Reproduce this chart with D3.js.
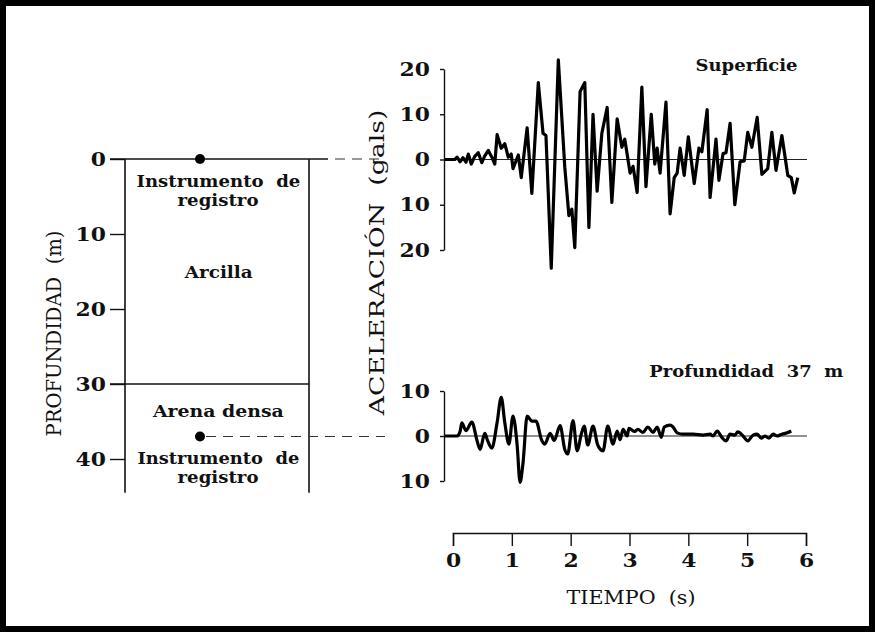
<!DOCTYPE html>
<html>
<head>
<meta charset="utf-8">
<style>
    body { margin: 0; background: #fff; }
    svg { display: block; font-family: 'DejaVu Serif', serif; }
    .axis .domain, .axis line { stroke: #111; stroke-width: 1.4; }
    .axis text { fill: #111; font-size: 19px; font-weight: bold; font-family: 'DejaVu Serif', serif; }
</style>
</head>
<body>
<svg width="875" height="632"></svg>
<script src="https://d3js.org/d3.v7.min.js"></script>
<script>
    // surface record (gals) vs time (s)
    let surfTime = [-0.14, 0.03, 0.07, 0.12, 0.17, 0.22, 0.26, 0.31, 0.37, 0.43, 0.49, 0.54, 0.60, 0.66, 0.71, 0.75, 0.82, 0.88, 0.94, 0.99, 1.02, 1.11, 1.16, 1.26, 1.34, 1.45, 1.53, 1.58, 1.67, 1.79, 1.90, 1.97, 2.02, 2.07, 2.16, 2.24, 2.31, 2.38, 2.45, 2.53, 2.62, 2.70, 2.79, 2.87, 2.92, 3.01, 3.06, 3.13, 3.21, 3.28, 3.37, 3.43, 3.47, 3.52, 3.62, 3.69, 3.76, 3.81, 3.86, 3.93, 4.00, 4.10, 4.18, 4.23, 4.32, 4.37, 4.47, 4.52, 4.59, 4.64, 4.71, 4.79, 4.88, 4.95, 5.01, 5.08, 5.17, 5.25, 5.35, 5.42, 5.49, 5.59, 5.69, 5.75, 5.80, 5.86];
    let surfAcc = [0, 0, 0.5, -0.5, 0.4, -0.6, 1.2, -1, 0.7, 1.5, -0.7, 0.8, 2, 0.5, -1, 5.5, 2.5, 3.5, 0.5, 1.2, -2, 1, -4, 7, -7.5, 17, 5.8, 5.3, -24, 22, -1.7, -12.4, -11, -19.5, 15, 17, -15, 10, -7, 5.8, 11.5, -9.5, 9, 2.7, 4.5, -3, -1.5, -7.3, 16, -6, 10, -1, 2.5, -3, 12.7, -12, -4, -3, 2.5, -3.5, 5, -5.3, 2.5, 1.7, 11, -8.4, 4.5, -4.6, 1.3, 1.5, 8, -10, -0.5, -0.3, 6, 2.7, 9.3, -3.3, -2, 6, -2.4, 5.3, -3.5, -4, -7.4, -4];

    // record at 37 m depth
    let deepTime = [-0.14, 0.07, 0.12, 0.15, 0.22, 0.32, 0.41, 0.46, 0.54, 0.59, 0.66, 0.75, 0.82, 0.88, 0.95, 1.02, 1.09, 1.14, 1.19, 1.26, 1.34, 1.41, 1.51, 1.56, 1.65, 1.72, 1.82, 1.90, 1.95, 2.04, 2.11, 2.18, 2.23, 2.29, 2.38, 2.46, 2.55, 2.63, 2.72, 2.79, 2.84, 2.89, 2.96, 2.99, 3.09, 3.14, 3.23, 3.31, 3.40, 3.47, 3.54, 3.59, 3.69, 3.74, 3.81, 3.91, 4.08, 4.25, 4.37, 4.42, 4.49, 4.57, 4.64, 4.71, 4.79, 4.84, 4.93, 5.01, 5.10, 5.17, 5.24, 5.30, 5.37, 5.44, 5.51, 5.59, 5.68, 5.75];
    let deepAcc = [0, 0, 1, 2.9, 1.2, 3.1, -1.1, -3, 0.6, -1.1, -2.7, 3, 8.6, 3, -1.8, 4.4, -2, -10.3, -6, 4.4, 3.3, 3.3, -1, -1.8, 0.6, -1, 2.3, -3, -4, 3.4, -3.3, 0.4, 2.2, -2, 2.2, -2, -3.3, 2.2, -1.8, 1.1, -0.8, 1.5, 0, 1.7, 1, 1.5, 0.8, 2, 0.8, 2, -0.3, 2, 2.4, 2, 0.7, 0.4, 0.4, 0.2, 0.4, 0, 1.1, -0.3, -1.1, 0.4, 0.2, 0.9, 0, -1.1, 0.2, 0.4, -0.5, 0, -0.5, 0.4, 0, 0.4, 0.7, 1.1];

    let timeTicks = [0, 1, 2, 3, 4, 5, 6];
    let surfTicks = [-20, -10, 0, 10, 20];
    let deepTicks = [-10, 0, 10];
    let depthTicks = [0, 10, 20, 30, 40];

    // soil profile (m)
    let clayBottom = 30;
    let sensorDepths = [0, 37];
    let profileBottom = 44.5;

    let svg = d3.select("svg");
    let stretch = 1.15;

    svg.append("rect")
        .attr("x", 3).attr("y", 3)
        .attr("width", 869).attr("height", 626)
        .attr("fill", "none")
        .attr("stroke", "#000")
        .attr("stroke-width", 6);

    let x = d3.scaleLinear().domain([0, 6]).range([453, 806]);
    let ySurf = d3.scaleLinear().domain([-20, 20]).range([250, 69]);
    let yDeep = d3.scaleLinear().domain([-10, 10]).range([481, 391]);
    let yDepth = d3.scaleLinear().domain([0, 40]).range([159, 459]);

    // text squeezed/stretched along its run to a given length, centred on c
    function label(str, c, base, len, o) {
        o = o || {};
        let rot = o.rotate || 0;
        let t = svg.append("text")
            .attr("text-anchor", "middle")
            .attr("font-size", o.size || 17)
            .attr("font-weight", o.weight || "bold")
            .attr("fill", "#111")
            .style("white-space", "pre")
            .text(str);
        let s = len / t.node().getComputedTextLength();
        let place = cc => rot
            ? t.attr("transform", `translate(${base},${cc}) rotate(${rot}) scale(${s},1)`)
            : t.attr("transform", `translate(${cc},${base}) scale(${s},1)`);
        place(c);
        let r = t.node().getBoundingClientRect();
        let mid = rot ? (r.top + r.bottom) / 2 : (r.left + r.right) / 2;
        place(c + (c - mid));
        return t;
    }

    function stretchTicks(g) {
        g.selectAll(".tick text").each(function () {
            let t = d3.select(this);
            t.attr("x", +t.attr("x") / stretch).attr("transform", `scale(${stretch},1)`);
        });
    }

    // ---- soil column ----
    let axisX = 125;
    svg.append("g")
        .attr("class", "axis")
        .attr("transform", `translate(${axisX},0)`)
        .call(d3.axisLeft(yDepth).tickValues(depthTicks).tickSize(15).tickPadding(4).tickSizeOuter(0))
        .call(g => g.select(".domain").remove())
        .call(stretchTicks);

    let soil = svg.append("g").attr("stroke", "#111").attr("stroke-width", 1.6).attr("fill", "none");
    soil.append("line").attr("x1", axisX).attr("x2", axisX).attr("y1", yDepth(0)).attr("y2", yDepth(profileBottom));
    soil.append("line").attr("x1", 309).attr("x2", 309).attr("y1", yDepth(0)).attr("y2", yDepth(profileBottom));
    soil.append("line").attr("x1", 110).attr("x2", 328).attr("y1", yDepth(0)).attr("y2", yDepth(0));
    soil.append("line").attr("x1", 110).attr("x2", 309).attr("y1", yDepth(clayBottom)).attr("y2", yDepth(clayBottom));

    // dashed links to the records
    svg.append("line").attr("x1", 335).attr("x2", 385).attr("y1", yDepth(0)).attr("y2", yDepth(0))
        .attr("stroke", "#333").attr("stroke-width", 1.2).attr("stroke-dasharray", "10 7");
    svg.append("line").attr("x1", 206).attr("x2", 385).attr("y1", yDepth(37)).attr("y2", yDepth(37))
        .attr("stroke", "#333").attr("stroke-width", 1.2).attr("stroke-dasharray", "10 7");

    svg.selectAll("circle.sensor")
        .data(sensorDepths)
        .join("circle")
        .attr("class", "sensor")
        .attr("cx", 200)
        .attr("cy", d => yDepth(d))
        .attr("r", 5)
        .attr("fill", "#000");

    label("Instrumento  de", 218.5, 187, 164, { size: 16 });
    label("registro", 218, 206, 81, { size: 16 });
    label("Arcilla", 218.5, 278, 68);
    label("Arena densa", 218, 417, 131);
    label("Instrumento  de", 218.5, 464, 162, { size: 16 });
    label("registro", 218, 483, 81, { size: 16 });

    label("PROFUNDIDAD  (m)", 333.5, 61, 206, { rotate: -90, weight: "normal", size: 21 });

    // ---- acceleration records ----
    let axisLeftX = 444;

    function record(yScale, ticks, times, values, curve) {
        svg.append("g")
            .attr("class", "axis")
            .attr("transform", `translate(${axisLeftX},0)`)
            .call(d3.axisLeft(yScale).tickValues(ticks).tickSize(4).tickPadding(10).tickSizeOuter(0)
                .tickFormat(d => Math.abs(d)))
            .call(stretchTicks);

        svg.append("line")
            .attr("x1", axisLeftX).attr("x2", 807)
            .attr("y1", yScale(0)).attr("y2", yScale(0))
            .attr("stroke", "#222").attr("stroke-width", 1.2);

        let pts = times.map((t, i) => [t, values[i]]);
        svg.append("path")
            .datum(pts)
            .attr("fill", "none")
            .attr("stroke", "#000")
            .attr("stroke-width", 3.2)
            .attr("stroke-linejoin", "round")
            .attr("d", d3.line().x(d => x(d[0])).y(d => yScale(d[1])).curve(curve));
    }

    record(ySurf, surfTicks, surfTime, surfAcc, d3.curveLinear);
    record(yDeep, deepTicks, deepTime, deepAcc, d3.curveMonotoneX);

    label("Superficie", 746.5, 71, 102, { size: 17 });
    label("Profundidad  37  m", 746.5, 377, 194, { size: 17 });

    label("ACELERACIÓN  (gals)", 263, 384, 306, { rotate: -90, weight: "normal", size: 21 });

    // ---- time axis ----
    svg.append("g")
        .attr("class", "axis")
        .attr("transform", "translate(0,533)")
        .call(d3.axisBottom(x).tickValues(timeTicks).tickSize(13).tickPadding(8).tickFormat(d3.format("d")))
        .call(stretchTicks);

    label("TIEMPO  (s)", 631, 604, 129, { weight: "normal", size: 19 });
</script>
</body>
</html>
